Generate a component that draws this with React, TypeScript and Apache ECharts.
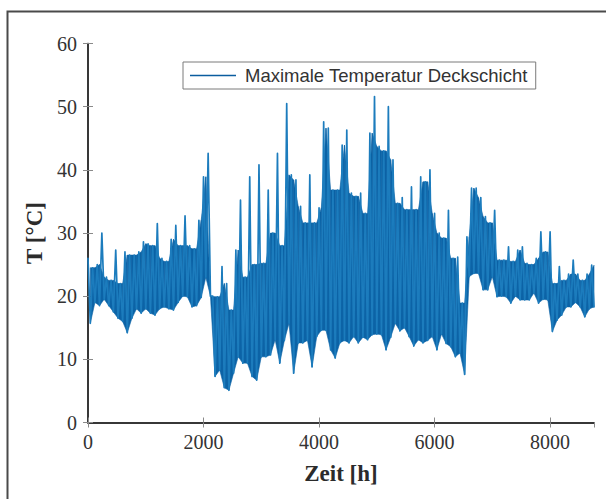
import React, { useEffect, useRef } from "react";
import * as echarts from "echarts";

// Hourly maximum temperature of the top layer over one year (8760 h),
// stored as the upper and lower envelope of each 80 h block.
const SAMPLE_STEP_H = 80;
const HOURS_IN_YEAR = 8760;

// Peak value at the start of each block (°C)
const peakTemps: number[] = [
  26, 24.5, 25, 30, 23, 22.5, 27.3, 22, 27, 26.5,
  26.5, 27, 28.6, 28.3, 28, 31.5, 26, 25.5, 29, 31.2,
  28, 32.7, 28, 27.5, 32, 38.9, 42.6, 20, 19.9, 24.7,
  22, 17.8, 27.3, 35.2, 23, 38.9, 25, 40.8, 25.2, 36.8,
  30, 42.6, 28, 50.5, 39.2, 38.4, 34.2, 31.6, 39.2, 31.6,
  34, 47.6, 46.6, 36.8, 36.8, 43.9, 46.3, 36.3, 35.8, 36.3,
  33.1, 45.8, 51.6, 43.7, 43, 50, 41.6, 34.7, 35.6, 33.7,
  37.3, 33.7, 38.9, 38.1, 40, 33.1, 30, 29.2, 33.6, 26,
  26.2, 18.9, 29.4, 37.1, 37.1, 35.6, 32.6, 31.6, 33.6, 25.7,
  25.7, 27.8, 25.5, 27.3, 27.8, 25.2, 25, 26, 30.2, 27,
  30.2, 22, 24.7, 22.5, 23.5, 25.7, 23.5, 22.5, 23.5, 24.9,
];

// Trough value in the middle of each block (°C)
const troughTemps: number[] = [
  15.7, 19, 18.5, 19.5, 18.5, 17.5, 16.5, 16, 14.2, 16.5,
  18, 17.3, 18, 17.3, 17, 18, 18.3, 18, 17.8, 19,
  20, 19.9, 18.3, 18.5, 19.8, 23, 20, 7.3, 8.3, 5.5,
  5.1, 7.8, 10.4, 9.4, 9.4, 7.3, 6.7, 10.4, 10.4, 10.7,
  13.1, 9.4, 13, 15.7, 7.8, 12.6, 12.6, 13, 8.8, 13.6,
  14.6, 14.6, 11.5, 10.2, 12.6, 13, 12.6, 13.6, 12.6, 13.5,
  13.1, 13.9, 14, 13.9, 11.5, 13.5, 15.7, 14.5, 15, 13.6,
  12.1, 13.1, 12.6, 13, 13.6, 11.5, 14, 12.5, 12, 10.4,
  11, 7.6, 23.1, 23.6, 23.6, 21, 21, 23.1, 19.9, 20,
  19.9, 18.9, 20, 19.4, 19.4, 19.4, 20.5, 18.9, 19.5, 19.4,
  14.4, 16.2, 17, 18.3, 18.3, 19, 18.3, 16.7, 18, 18.3,
];

const xTicks = { min: 0, max: HOURS_IN_YEAR, step: 2000 };
const yTicks = { min: 0, max: 60, step: 10 };

const SERIES_NAME = "Maximale Temperatur Deckschicht";

const troughHour = (i: number) => Math.min(i * SAMPLE_STEP_H + SAMPLE_STEP_H / 2, HOURS_IN_YEAR);

// Zig-zag between block peaks and troughs.
function buildTrace(): [number, number][] {
  const pts: [number, number][] = [];
  peakTemps.forEach((hi, i) => {
    pts.push([i * SAMPLE_STEP_H, hi]);
    pts.push([troughHour(i), troughTemps[i]]);
  });
  return pts;
}

// Dense core of the hourly trace: from each trough up to the lower of its
// neighbouring peaks. One quad per pair of consecutive troughs:
// [t0, lo0, hi0, t1, lo1, hi1]
function buildCoreQuads(): number[][] {
  const core = troughTemps.map((lo, i) => {
    const next = i + 1 < peakTemps.length ? peakTemps[i + 1] : peakTemps[i];
    return { t: troughHour(i), lo, hi: Math.max(lo, Math.min(peakTemps[i], next)) };
  });
  const quads: number[][] = [];
  for (let i = 0; i + 1 < core.length; i++) {
    const a = core[i];
    const b = core[i + 1];
    quads.push([a.t, a.lo, a.hi, b.t, b.lo, b.hi]);
  }
  return quads;
}

export default function App() {
  const ref = useRef<HTMLDivElement>(null);

  useEffect(() => {
    if (!ref.current) return;
    const chart = echarts.init(ref.current, undefined, { renderer: "svg" });

    const serif = "'Liberation Serif', 'Times New Roman', serif";
    const sans = "'Liberation Sans', Arial, sans-serif";
    const frame = { show: true, lineStyle: { color: "#2b2b2b", width: 1.5 } };
    const tick = { show: true, inside: true, length: 5, lineStyle: { color: "#8a8a8a", width: 1 } };
    const plain = (v: number) => String(v);
    const coreColor = "#0c63a6";
    const traceColor = "#1c7cbd";

    chart.setOption({
      animation: false,
      backgroundColor: "#ffffff",
      grid: { left: 88, right: 12, top: 43.5, bottom: 76.5, containLabel: false },
      graphic: [
        {
          type: "rect",
          z: -1,
          shape: { x: 7.5, y: 11.5, width: 700, height: 600 },
          style: { fill: "none", stroke: "#4a4a4a", lineWidth: 2 },
          silent: true,
        },
      ],
      legend: {
        left: 183,
        top: 62,
        orient: "horizontal",
        backgroundColor: "#ffffff",
        borderColor: "#7a7a7a",
        borderWidth: 1,
        borderRadius: 0,
        padding: [4, 8, 4, 7],
        itemWidth: 46,
        itemHeight: 14,
        textStyle: {
          fontFamily: sans,
          fontSize: 18.5,
          color: "#333333",
          padding: [0, 0, 0, 4],
        },
        data: [
          {
            name: SERIES_NAME,
            icon: "path://M0,0 L46,0 L46,1.6 L0,1.6 Z",
            itemStyle: { color: "#0b5d9f" },
          },
        ],
      },
      xAxis: [
        {
          type: "value",
          min: xTicks.min,
          max: xTicks.max,
          interval: xTicks.step,
          name: "Zeit [h]",
          nameLocation: "middle",
          nameGap: 39,
          nameTextStyle: { fontFamily: serif, fontSize: 23, fontWeight: "bold", color: "#2b2b2b" },
          axisLine: frame,
          axisTick: tick,
          splitLine: { show: false },
          axisLabel: {
            fontFamily: serif,
            fontSize: 20,
            color: "#333333",
            margin: 9,
            showMaxLabel: false,
            formatter: plain,
          },
        },
        {
          type: "value",
          position: "top",
          min: xTicks.min,
          max: xTicks.max,
          interval: xTicks.step,
          axisLine: frame,
          axisTick: tick,
          axisLabel: { show: false },
          splitLine: { show: false },
        },
      ],
      yAxis: [
        {
          type: "value",
          min: yTicks.min,
          max: yTicks.max,
          interval: yTicks.step,
          name: "T [°C]",
          nameLocation: "middle",
          nameGap: 42,
          nameRotate: 90,
          nameTextStyle: { fontFamily: serif, fontSize: 23, fontWeight: "bold", color: "#2b2b2b" },
          axisLine: frame,
          axisTick: tick,
          splitLine: { show: false },
          axisLabel: { fontFamily: serif, fontSize: 20, color: "#333333", margin: 11, formatter: plain },
        },
        {
          type: "value",
          position: "right",
          min: yTicks.min,
          max: yTicks.max,
          interval: yTicks.step,
          axisLine: frame,
          axisTick: tick,
          axisLabel: { show: false },
          splitLine: { show: false },
        },
      ],
      series: [
        {
          name: "core",
          type: "custom",
          xAxisIndex: 0,
          yAxisIndex: 0,
          silent: true,
          z: 1,
          encode: { x: [0, 3], y: [1, 2, 4, 5] },
          data: buildCoreQuads(),
          renderItem: (_params: any, api: any) => {
            const p0 = api.coord([api.value(0), api.value(2)]);
            const p1 = api.coord([api.value(3), api.value(5)]);
            const p2 = api.coord([api.value(3), api.value(4)]);
            const p3 = api.coord([api.value(0), api.value(1)]);
            return {
              type: "polygon",
              shape: { points: [p0, p1, p2, p3] },
              style: { fill: coreColor, stroke: coreColor, lineWidth: 0.6 },
            };
          },
        },
        {
          name: SERIES_NAME,
          type: "line",
          xAxisIndex: 0,
          yAxisIndex: 0,
          data: buildTrace(),
          symbol: "none",
          showSymbol: false,
          clip: true,
          color: "#0b5d9f",
          lineStyle: { color: traceColor, width: 1.7, join: "round", cap: "round" },
          z: 2,
        },
      ],
    });

    return () => chart.dispose();
  }, []);

  return (
    <div
      ref={ref}
      style={{ position: "fixed", left: 0, top: 0, width: 606, height: 499 }}
    />
  );
}
